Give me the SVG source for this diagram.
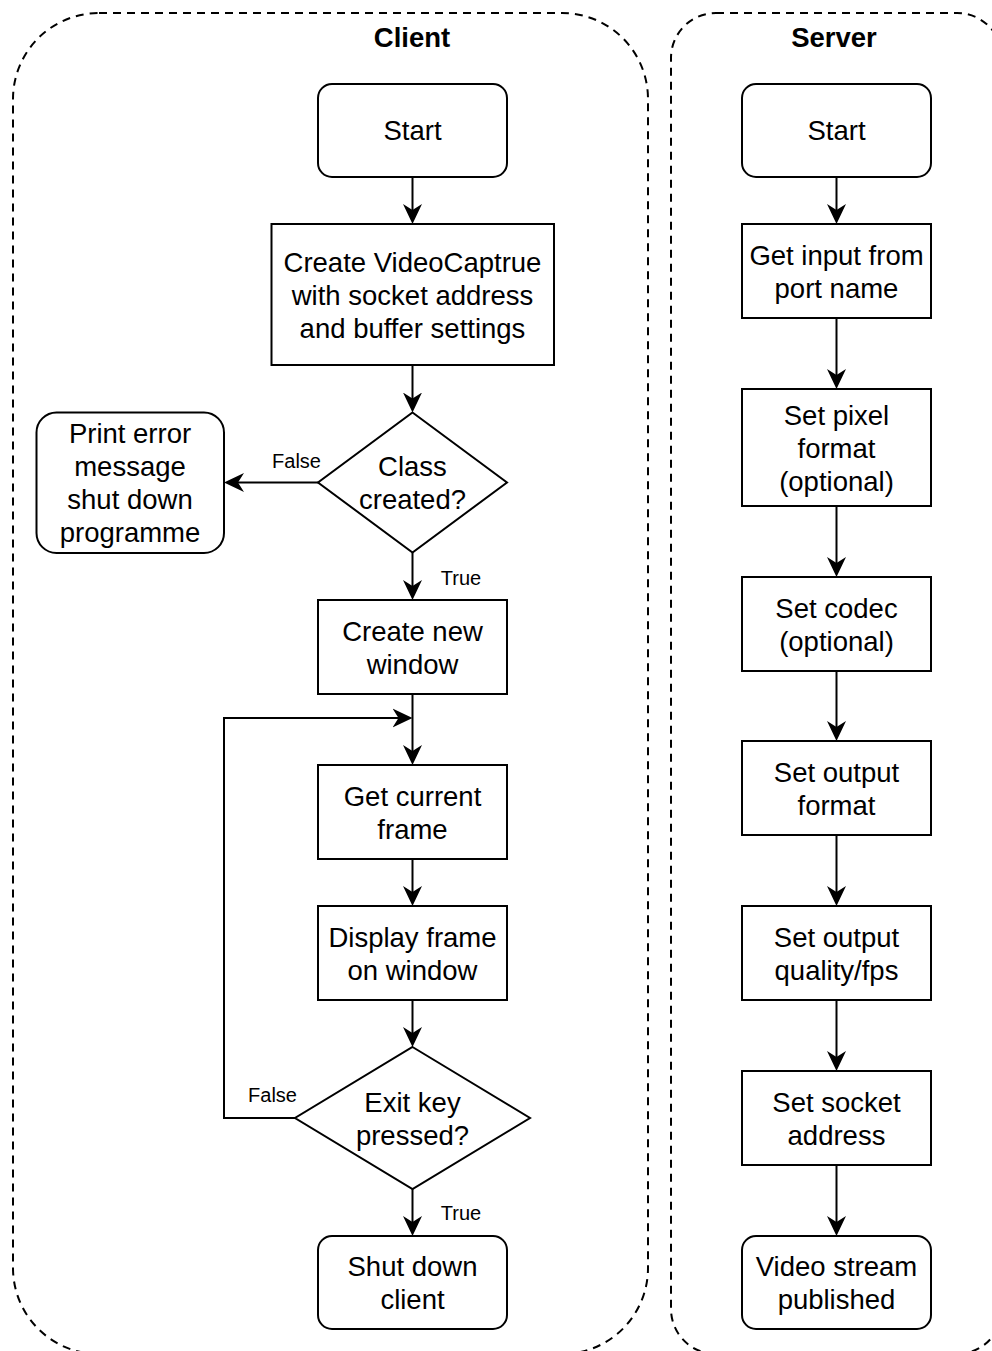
<svg xmlns="http://www.w3.org/2000/svg" width="992" height="1351" viewBox="0 0 992 1351">
  <style>
    .lane { fill: none; stroke: #000; stroke-width: 2; stroke-dasharray: 8 6; }
    .box { fill: #fff; stroke: #000; stroke-width: 2; }
    .edge { fill: none; stroke: #000; stroke-width: 2; marker-end: url(#arrow); }
    .t { font-family: "Liberation Sans", Arial, Helvetica, sans-serif; font-size: 27.5px; fill: #000; text-anchor: middle; }
    .title { font-weight: bold; }
    .lbl { font-family: "Liberation Sans", Arial, Helvetica, sans-serif; font-size: 20px; fill: #000; text-anchor: middle; }
  </style>
  <defs>
    <marker id="arrow" markerUnits="userSpaceOnUse" markerWidth="22" markerHeight="22" refX="10" refY="10" orient="auto">
      <path d="M20,10 L0,0.5 L6,10 L0,19.5 Z" fill="#000"/>
    </marker>
  </defs>
  <rect width="992" height="1351" fill="#fff"/>

  <!-- swimlane containers -->
  <g id="lane-client">
    <rect class="lane" x="13" y="13" width="635" height="1341" rx="86" ry="86"/>
    <text class="t title" x="412" y="47">Client</text>
  </g>
  <g id="lane-server">
    <rect class="lane" x="671" y="13" width="331" height="1341" rx="45" ry="45"/>
    <text class="t title" x="834" y="47">Server</text>
  </g>

  <!-- connectors -->
  <g id="connectors">
    <path class="edge" d="M412.5,177 V214"/>
    <path class="edge" d="M412.5,365 V402.5"/>
    <path class="edge" d="M318,482.5 H234"/>
    <path class="edge" d="M412.5,552.5 V590"/>
    <path class="edge" d="M412.5,694 V755"/>
    <path class="edge" d="M295,1118 H224 V718 H402.5"/>
    <path class="edge" d="M412.5,859 V896"/>
    <path class="edge" d="M412.5,1000 V1037"/>
    <path class="edge" d="M412.5,1189 V1226"/>

    <path class="edge" d="M836.5,177 V214"/>
    <path class="edge" d="M836.5,318 V379"/>
    <path class="edge" d="M836.5,506 V567"/>
    <path class="edge" d="M836.5,671 V731"/>
    <path class="edge" d="M836.5,835 V896"/>
    <path class="edge" d="M836.5,1000 V1061"/>
    <path class="edge" d="M836.5,1165 V1226"/>

    <text class="lbl" x="296.5" y="468">False</text>
    <text class="lbl" x="461" y="585">True</text>
    <text class="lbl" x="272.5" y="1102">False</text>
    <text class="lbl" x="461" y="1220">True</text>
  </g>

  <!-- client nodes -->
  <g id="c-start">
    <rect class="box" x="318" y="84" width="189" height="93" rx="14" ry="14"/>
    <text class="t" x="412.5" y="140">Start</text>
  </g>
  <g id="c-create-capture">
    <rect class="box" x="271.5" y="224" width="282.5" height="141"/>
    <text class="t" x="412.5" y="272">Create VideoCaptrue</text>
    <text class="t" x="412.5" y="305">with socket address</text>
    <text class="t" x="412.5" y="338">and buffer settings</text>
  </g>
  <g id="c-class-created">
    <polygon class="box" points="412.5,412.5 507,482.5 412.5,552.5 318,482.5"/>
    <text class="t" x="412.5" y="476">Class</text>
    <text class="t" x="412.5" y="509">created?</text>
  </g>
  <g id="c-print-error">
    <rect class="box" x="36.5" y="412.5" width="187.5" height="140.5" rx="20" ry="20"/>
    <text class="t" x="130" y="443">Print error</text>
    <text class="t" x="130" y="476">message</text>
    <text class="t" x="130" y="509">shut down</text>
    <text class="t" x="130" y="542">programme</text>
  </g>
  <g id="c-new-window">
    <rect class="box" x="318" y="600" width="189" height="94"/>
    <text class="t" x="412.5" y="640.5">Create new</text>
    <text class="t" x="412.5" y="673.5">window</text>
  </g>
  <g id="c-get-frame">
    <rect class="box" x="318" y="765" width="189" height="94"/>
    <text class="t" x="412.5" y="805.5">Get current</text>
    <text class="t" x="412.5" y="838.5">frame</text>
  </g>
  <g id="c-display-frame">
    <rect class="box" x="318" y="906" width="189" height="94"/>
    <text class="t" x="412.5" y="946.5">Display frame</text>
    <text class="t" x="412.5" y="979.5">on window</text>
  </g>
  <g id="c-exit-key">
    <polygon class="box" points="412.5,1047 530,1118 412.5,1189 295,1118"/>
    <text class="t" x="412.5" y="1111.5">Exit key</text>
    <text class="t" x="412.5" y="1144.5">pressed?</text>
  </g>
  <g id="c-shutdown">
    <rect class="box" x="318" y="1236" width="189" height="93" rx="14" ry="14"/>
    <text class="t" x="412.5" y="1276">Shut down</text>
    <text class="t" x="412.5" y="1309">client</text>
  </g>

  <!-- server nodes -->
  <g id="s-start">
    <rect class="box" x="742" y="84" width="189" height="93" rx="14" ry="14"/>
    <text class="t" x="836.5" y="140">Start</text>
  </g>
  <g id="s-input">
    <rect class="box" x="742" y="224" width="189" height="94"/>
    <text class="t" x="836.5" y="264.5">Get input from</text>
    <text class="t" x="836.5" y="297.5">port name</text>
  </g>
  <g id="s-pixel-format">
    <rect class="box" x="742" y="389" width="189" height="117"/>
    <text class="t" x="836.5" y="424.5">Set pixel</text>
    <text class="t" x="836.5" y="457.5">format</text>
    <text class="t" x="836.5" y="490.5">(optional)</text>
  </g>
  <g id="s-codec">
    <rect class="box" x="742" y="577" width="189" height="94"/>
    <text class="t" x="836.5" y="617.5">Set codec</text>
    <text class="t" x="836.5" y="650.5">(optional)</text>
  </g>
  <g id="s-output-format">
    <rect class="box" x="742" y="741" width="189" height="94"/>
    <text class="t" x="836.5" y="781.5">Set output</text>
    <text class="t" x="836.5" y="814.5">format</text>
  </g>
  <g id="s-quality">
    <rect class="box" x="742" y="906" width="189" height="94"/>
    <text class="t" x="836.5" y="946.5">Set output</text>
    <text class="t" x="836.5" y="979.5">quality/fps</text>
  </g>
  <g id="s-socket">
    <rect class="box" x="742" y="1071" width="189" height="94"/>
    <text class="t" x="836.5" y="1111.5">Set socket</text>
    <text class="t" x="836.5" y="1144.5">address</text>
  </g>
  <g id="s-published">
    <rect class="box" x="742" y="1236" width="189" height="93" rx="14" ry="14"/>
    <text class="t" x="836.5" y="1276">Video stream</text>
    <text class="t" x="836.5" y="1309">published</text>
  </g>
</svg>
